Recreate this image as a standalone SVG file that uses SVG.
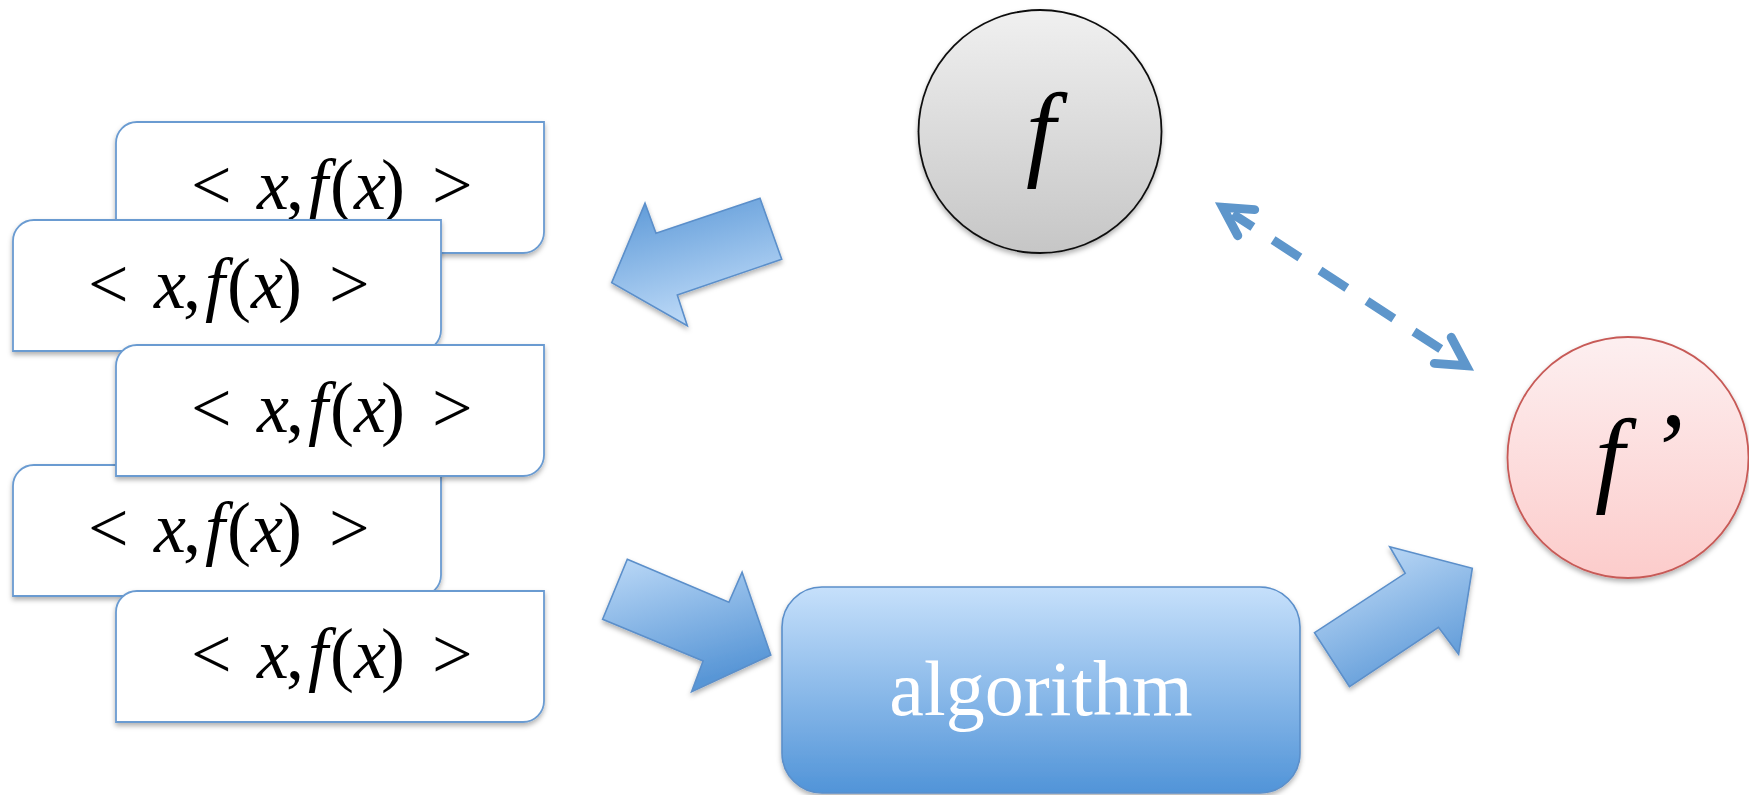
<svg xmlns="http://www.w3.org/2000/svg" width="1749" height="795" viewBox="0 0 1749 795">
  <style>
    .card { fill: #ffffff; stroke: #6a9bd1; stroke-width: 1.8; }
    .pair { font-family: "Liberation Serif", "DejaVu Serif", serif; font-size: 72px; fill: #000; }
    .mi { font-style: italic; }
    .fn { font-family: "Liberation Serif", "DejaVu Serif", serif; font-style: italic; font-size: 106px; fill: #000; }
    .block { stroke: #5b8fca; stroke-width: 1.6; stroke-linejoin: miter; }
    .link { fill: none; stroke: #5e96cb; stroke-width: 9; stroke-dasharray: 32 24; stroke-dashoffset: 8; }
    .label { font-family: "Liberation Serif", "DejaVu Serif", serif; font-size: 78px; fill: #ffffff; }
  </style>
  <defs>
    <filter id="sh" x="-10%" y="-10%" width="120%" height="130%">
      <feDropShadow dx="0" dy="3" stdDeviation="2.5" flood-color="#000" flood-opacity="0.3"/>
    </filter>
    <linearGradient id="gGray" x1="0" y1="0" x2="0" y2="1">
      <stop offset="0" stop-color="#f0f0f0"/>
      <stop offset="1" stop-color="#c6c6c6"/>
    </linearGradient>
    <linearGradient id="gPink" x1="0" y1="0" x2="0" y2="1">
      <stop offset="0" stop-color="#fdeff0"/>
      <stop offset="1" stop-color="#fccccb"/>
    </linearGradient>
    <linearGradient id="gBox" x1="0" y1="0" x2="0" y2="1">
      <stop offset="0" stop-color="#c6e0fb"/>
      <stop offset="1" stop-color="#5194d8"/>
    </linearGradient>
    <linearGradient id="gArrowL" x1="0" y1="0" x2="0.35" y2="1">
      <stop offset="0" stop-color="#5896d6"/>
      <stop offset="1" stop-color="#bcd9f7"/>
    </linearGradient>
    <linearGradient id="gArrowIn" x1="0" y1="0" x2="0.35" y2="1">
      <stop offset="0" stop-color="#bcd9f7"/>
      <stop offset="1" stop-color="#5896d6"/>
    </linearGradient>
    <linearGradient id="gArrowOut" x1="0.2" y1="0" x2="0.7" y2="1">
      <stop offset="0" stop-color="#c3ddf8"/>
      <stop offset="1" stop-color="#5896d6"/>
    </linearGradient>
    <marker id="chev" markerUnits="userSpaceOnUse" viewBox="-40 -24 52 48" markerWidth="52" markerHeight="48" refX="-12" refY="0" orient="auto-start-reverse" overflow="visible">
      <path d="M -28 -15.5 L 0 0 L -28 15.5" fill="none" stroke="#5e96cb" stroke-width="9" stroke-linecap="round" stroke-linejoin="miter"/>
    </marker>
  </defs>

  <!-- stacked sample cards -->
  <g id="card1" transform="translate(116,122)">
    <path class="card" filter="url(#sh)" d="M21,0 H428 V110 A21,21 0 0 1 407,131 H0 V21 A21,21 0 0 1 21,0 Z"/>
    <text class="pair" y="87"><tspan x="75">&lt;</tspan><tspan class="mi" x="141">x</tspan><tspan x="170">,</tspan><tspan class="mi" x="192">f</tspan><tspan x="214">(</tspan><tspan class="mi" x="238">x</tspan><tspan x="265">)</tspan><tspan x="316">&gt;</tspan></text>
  </g>
  <g id="card2" transform="translate(13,220)">
    <path class="card" filter="url(#sh)" d="M21,0 H428 V110 A21,21 0 0 1 407,131 H0 V21 A21,21 0 0 1 21,0 Z"/>
    <text class="pair" y="88"><tspan x="75">&lt;</tspan><tspan class="mi" x="141">x</tspan><tspan x="170">,</tspan><tspan class="mi" x="192">f</tspan><tspan x="214">(</tspan><tspan class="mi" x="238">x</tspan><tspan x="265">)</tspan><tspan x="316">&gt;</tspan></text>
  </g>
  <g id="card4" transform="translate(13,465)">
    <path class="card" filter="url(#sh)" d="M21,0 H428 V110 A21,21 0 0 1 407,131 H0 V21 A21,21 0 0 1 21,0 Z"/>
    <text class="pair" y="87"><tspan x="75">&lt;</tspan><tspan class="mi" x="141">x</tspan><tspan x="170">,</tspan><tspan class="mi" x="192">f</tspan><tspan x="214">(</tspan><tspan class="mi" x="238">x</tspan><tspan x="265">)</tspan><tspan x="316">&gt;</tspan></text>
  </g>
  <g id="card3" transform="translate(116,345)">
    <path class="card" filter="url(#sh)" d="M21,0 H428 V110 A21,21 0 0 1 407,131 H0 V21 A21,21 0 0 1 21,0 Z"/>
    <text class="pair" y="87"><tspan x="75">&lt;</tspan><tspan class="mi" x="141">x</tspan><tspan x="170">,</tspan><tspan class="mi" x="192">f</tspan><tspan x="214">(</tspan><tspan class="mi" x="238">x</tspan><tspan x="265">)</tspan><tspan x="316">&gt;</tspan></text>
  </g>
  <g id="card5" transform="translate(116,591)">
    <path class="card" filter="url(#sh)" d="M21,0 H428 V110 A21,21 0 0 1 407,131 H0 V21 A21,21 0 0 1 21,0 Z"/>
    <text class="pair" y="87"><tspan x="75">&lt;</tspan><tspan class="mi" x="141">x</tspan><tspan x="170">,</tspan><tspan class="mi" x="192">f</tspan><tspan x="214">(</tspan><tspan class="mi" x="238">x</tspan><tspan x="265">)</tspan><tspan x="316">&gt;</tspan></text>
  </g>

  <!-- target function -->
  <g id="f">
    <circle cx="1040" cy="131.5" r="121.5" fill="url(#gGray)" stroke="#111" stroke-width="1.8" filter="url(#sh)"/>
    <text class="fn" x="1026" y="166">f</text>
  </g>

  <!-- learned function -->
  <g id="fprime">
    <circle cx="1628" cy="457.5" r="120.5" fill="url(#gPink)" stroke="#c75a57" stroke-width="1.8" filter="url(#sh)"/>
    <text class="fn" font-size="107"><tspan x="1595" y="492">f</tspan><tspan x="1648" y="486">’</tspan></text>
  </g>

  <!-- learner -->
  <g id="algorithm">
    <rect x="782" y="587" width="518" height="206" rx="40" ry="40" fill="url(#gBox)" stroke="#5b8fca" stroke-width="1.6" filter="url(#sh)"/>
    <text class="label" x="1041" y="715" text-anchor="middle">algorithm</text>
  </g>

  <!-- connectors -->
  <g id="connectors">
    <polygon class="block" fill="url(#gArrowL)" filter="url(#sh)" points="760,198.3 781.7,259.3 677.3,295 687.3,325.7 611.7,282.7 645,203.3 656,233.3"/>
    <polygon class="block" fill="url(#gArrowIn)" filter="url(#sh)" points="627.3,559.3 728.9,602.3 742.1,572.3 770.8,655 691.6,691.7 703.1,661 602.6,619.3"/>
    <polygon class="block" fill="url(#gArrowOut)" filter="url(#sh)" points="1349.5,686.7 1314.5,632.7 1405.2,573.3 1389.7,546.7 1472.3,568.3 1458.6,654.3 1438.5,627.3"/>
    <path class="link" d="M1232.8,213.9 L1456.2,359.1" marker-start="url(#chev)" marker-end="url(#chev)"/>
  </g>
</svg>
